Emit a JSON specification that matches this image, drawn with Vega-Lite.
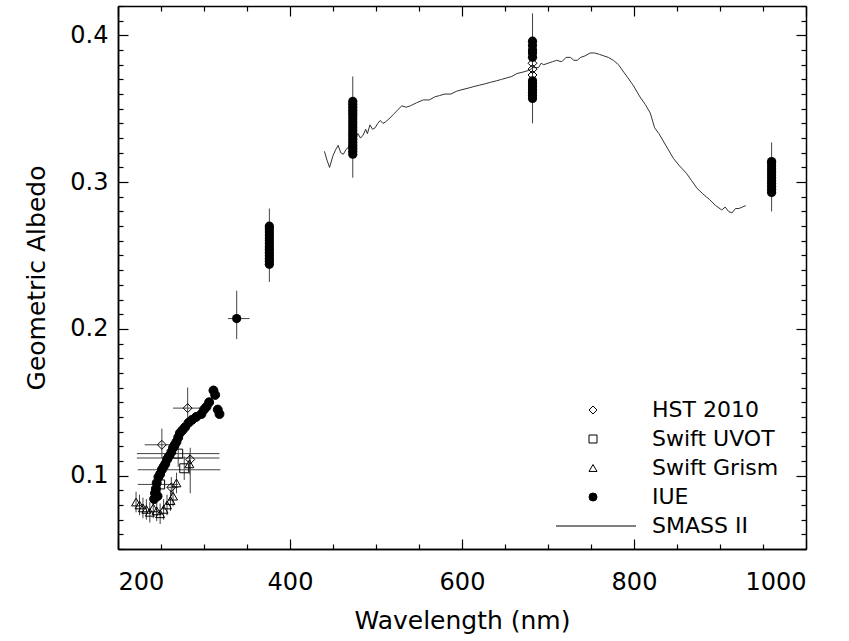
{
  "$schema": "https://vega.github.io/schema/vega-lite/v6.json",
  "width": 688,
  "height": 543,
  "autosize": "none",
  "padding": {"left": 118, "top": 6, "right": 43, "bottom": 92},
  "background": "white",
  "config": {
    "view": {"stroke": null},
    "font": "DejaVu Sans",
    "axis": {"domainColor": "black", "domainWidth": 1.5, "tickColor": "black", "tickWidth": 1.2, "grid": false, "labelColor": "black", "titleColor": "black", "labelFont": "DejaVu Sans", "titleFont": "DejaVu Sans", "titleFontWeight": "normal", "zindex": 1},
    "legend": {"labelFont": "DejaVu Sans", "labelFontSize": 22, "labelColor": "black"}
  },
  "datasets": {
    "smass": [
      {"w":440,"v":0.321},{"w":443,"v":0.315},{"w":446,"v":0.310},{"w":450,"v":0.318},{"w":453,"v":0.322},{"w":456,"v":0.325},{"w":459,"v":0.320},{"w":462,"v":0.319},{"w":465,"v":0.322},{"w":468,"v":0.324},{"w":471,"v":0.327},{"w":474,"v":0.329},{"w":477,"v":0.331},{"w":479,"v":0.333},{"w":482,"v":0.330},{"w":485,"v":0.332},{"w":488,"v":0.336},{"w":490,"v":0.333},{"w":493,"v":0.339},{"w":496,"v":0.336},{"w":499,"v":0.337},{"w":502,"v":0.340},{"w":505,"v":0.342},{"w":508,"v":0.340},{"w":511,"v":0.341},{"w":515,"v":0.343},{"w":520,"v":0.346},{"w":525,"v":0.349},{"w":530,"v":0.352},{"w":535,"v":0.351},{"w":540,"v":0.352},{"w":547,"v":0.354},{"w":555,"v":0.356},{"w":562,"v":0.356},{"w":568,"v":0.358},{"w":574,"v":0.359},{"w":580,"v":0.360},{"w":587,"v":0.360},{"w":594,"v":0.362},{"w":600,"v":0.363},{"w":607,"v":0.364},{"w":613,"v":0.365},{"w":620,"v":0.366},{"w":627,"v":0.367},{"w":633,"v":0.368},{"w":640,"v":0.369},{"w":646,"v":0.370},{"w":652,"v":0.371},{"w":658,"v":0.372},{"w":664,"v":0.374},{"w":671,"v":0.375},{"w":677,"v":0.376},{"w":683,"v":0.378},{"w":689,"v":0.378},{"w":692,"v":0.381},{"w":695,"v":0.380},{"w":700,"v":0.381},{"w":705,"v":0.382},{"w":710,"v":0.383},{"w":716,"v":0.382},{"w":721,"v":0.385},{"w":726,"v":0.385},{"w":730,"v":0.383},{"w":734,"v":0.383},{"w":738,"v":0.385},{"w":743,"v":0.386},{"w":749,"v":0.388},{"w":754,"v":0.388},{"w":760,"v":0.387},{"w":765,"v":0.386},{"w":770,"v":0.385},{"w":776,"v":0.383},{"w":782,"v":0.380},{"w":788,"v":0.375},{"w":793,"v":0.371},{"w":799,"v":0.366},{"w":803,"v":0.362},{"w":807,"v":0.358},{"w":813,"v":0.353},{"w":819,"v":0.347},{"w":822,"v":0.341},{"w":824,"v":0.337},{"w":829,"v":0.333},{"w":834,"v":0.328},{"w":840,"v":0.322},{"w":846,"v":0.316},{"w":853,"v":0.311},{"w":861,"v":0.306},{"w":867,"v":0.301},{"w":873,"v":0.296},{"w":880,"v":0.292},{"w":888,"v":0.288},{"w":895,"v":0.284},{"w":902,"v":0.281},{"w":906,"v":0.283},{"w":910,"v":0.280},{"w":914,"v":0.279},{"w":918,"v":0.282},{"w":922,"v":0.282},{"w":926,"v":0.283},{"w":930,"v":0.284}
    ],
    "blob": [
      {"w":376,"v":0.244},{"w":376,"v":0.246},{"w":376,"v":0.248},{"w":376,"v":0.250},{"w":376,"v":0.252},{"w":376,"v":0.254},{"w":376,"v":0.256},{"w":376,"v":0.258},{"w":376,"v":0.260},{"w":376,"v":0.262},{"w":376,"v":0.264},{"w":376,"v":0.266},{"w":376,"v":0.268},{"w":376,"v":0.270},
      {"w":473,"v":0.319},{"w":473,"v":0.321},{"w":473,"v":0.323},{"w":473,"v":0.325},{"w":473,"v":0.327},{"w":473,"v":0.329},{"w":473,"v":0.331},{"w":473,"v":0.333},{"w":473,"v":0.335},{"w":473,"v":0.337},{"w":473,"v":0.339},{"w":473,"v":0.341},{"w":473,"v":0.343},{"w":473,"v":0.345},{"w":473,"v":0.347},{"w":473,"v":0.349},{"w":473,"v":0.351},{"w":473,"v":0.353},{"w":473,"v":0.355},
      {"w":682,"v":0.357},{"w":682,"v":0.359},{"w":682,"v":0.361},{"w":682,"v":0.363},{"w":682,"v":0.365},{"w":682,"v":0.367},{"w":682,"v":0.369},{"w":682,"v":0.385},{"w":682,"v":0.388},{"w":682,"v":0.390},{"w":682,"v":0.393},{"w":682,"v":0.396},
      {"w":960,"v":0.293},{"w":960,"v":0.295},{"w":960,"v":0.297},{"w":960,"v":0.299},{"w":960,"v":0.301},{"w":960,"v":0.303},{"w":960,"v":0.305},{"w":960,"v":0.307},{"w":960,"v":0.309},{"w":960,"v":0.311},{"w":960,"v":0.313},{"w":960,"v":0.314},
      {"w":338,"v":0.207}
    ],
    "pts": [
      {"series":"HST 2010","w":682,"v":0.373},{"series":"HST 2010","w":682,"v":0.377},{"series":"HST 2010","w":682,"v":0.381},
      {"series":"HST 2010","w":281,"v":0.146},{"series":"HST 2010","w":251,"v":0.121},{"series":"HST 2010","w":284,"v":0.111},{"series":"HST 2010","w":262,"v":0.092},
      {"series":"Swift UVOT","w":270,"v":0.115},{"series":"Swift UVOT","w":277,"v":0.105},{"series":"Swift UVOT","w":249,"v":0.094},
      {"series":"Swift Grism","w":221,"v":0.082},{"series":"Swift Grism","w":225,"v":0.080},{"series":"Swift Grism","w":229,"v":0.078},{"series":"Swift Grism","w":233,"v":0.077},{"series":"Swift Grism","w":237,"v":0.075},{"series":"Swift Grism","w":241,"v":0.078},{"series":"Swift Grism","w":245,"v":0.076},{"series":"Swift Grism","w":249,"v":0.074},{"series":"Swift Grism","w":253,"v":0.077},{"series":"Swift Grism","w":257,"v":0.080},{"series":"Swift Grism","w":261,"v":0.083},{"series":"Swift Grism","w":264,"v":0.086},{"series":"Swift Grism","w":268,"v":0.095},{"series":"Swift Grism","w":283,"v":0.108},
      {"series":"IUE","w":242,"v":0.084},{"series":"IUE","w":243,"v":0.088},{"series":"IUE","w":244,"v":0.091},{"series":"IUE","w":245,"v":0.095},{"series":"IUE","w":246,"v":0.086},{"series":"IUE","w":247,"v":0.099},{"series":"IUE","w":249,"v":0.101},{"series":"IUE","w":251,"v":0.104},{"series":"IUE","w":253,"v":0.106},{"series":"IUE","w":255,"v":0.108},{"series":"IUE","w":257,"v":0.111},{"series":"IUE","w":259,"v":0.113},{"series":"IUE","w":262,"v":0.116},{"series":"IUE","w":264,"v":0.119},{"series":"IUE","w":266,"v":0.121},{"series":"IUE","w":268,"v":0.123},{"series":"IUE","w":270,"v":0.126},{"series":"IUE","w":272,"v":0.129},{"series":"IUE","w":275,"v":0.131},{"series":"IUE","w":278,"v":0.133},{"series":"IUE","w":282,"v":0.136},{"series":"IUE","w":286,"v":0.138},{"series":"IUE","w":291,"v":0.140},{"series":"IUE","w":297,"v":0.142},{"series":"IUE","w":300,"v":0.145},{"series":"IUE","w":303,"v":0.147},{"series":"IUE","w":306,"v":0.150},{"series":"IUE","w":311,"v":0.158},{"series":"IUE","w":313,"v":0.155},{"series":"IUE","w":316,"v":0.145},{"series":"IUE","w":318,"v":0.142}
    ],
    "vbar": [
      {"w":376,"lo":0.232,"hi":0.282},{"w":473,"lo":0.303,"hi":0.372},{"w":682,"lo":0.340,"hi":0.415},{"w":960,"lo":0.280,"hi":0.327},{"w":338,"lo":0.193,"hi":0.226},
      {"w":281,"lo":0.136,"hi":0.160},{"w":251,"lo":0.112,"hi":0.132},{"w":284,"lo":0.088,"hi":0.119},{"w":262,"lo":0.086,"hi":0.099},
      {"w":270,"lo":0.106,"hi":0.124},{"w":277,"lo":0.097,"hi":0.113},{"w":249,"lo":0.086,"hi":0.102},
      {"w":221,"lo":0.075,"hi":0.089},{"w":225,"lo":0.073,"hi":0.087},{"w":229,"lo":0.071,"hi":0.085},{"w":233,"lo":0.070,"hi":0.084},{"w":237,"lo":0.068,"hi":0.082},{"w":241,"lo":0.071,"hi":0.085},{"w":245,"lo":0.069,"hi":0.083},{"w":249,"lo":0.067,"hi":0.081},{"w":253,"lo":0.070,"hi":0.084},{"w":257,"lo":0.073,"hi":0.087},{"w":261,"lo":0.076,"hi":0.090},{"w":264,"lo":0.079,"hi":0.093},{"w":268,"lo":0.088,"hi":0.102},{"w":283,"lo":0.101,"hi":0.115}
    ],
    "hbar": [
      {"v":0.207,"lo":328,"hi":353},{"v":0.146,"lo":264,"hi":295},{"v":0.121,"lo":231,"hi":268},{"v":0.115,"lo":222,"hi":318},{"v":0.112,"lo":222,"hi":318},{"v":0.104,"lo":223,"hi":319},{"v":0.094,"lo":223,"hi":270},{"v":0.092,"lo":257,"hi":270}
    ]
  },
  "resolve": {"axis": {"x": "independent", "y": "independent"}},
  "layer": [
    {
      "data": {"name": "smass"},
      "mark": {"type": "line", "color": "#333", "strokeWidth": 1},
      "encoding": {
        "x": {"field": "w", "type": "quantitative", "scale": {"domain": [200, 1000], "nice": false, "zero": false},
              "axis": {"orient": "bottom", "values": [200, 400, 600, 800, 1000], "format": "d", "ticks": false, "labelFontSize": 24, "labelPadding": 21, "title": "Wavelength (nm)", "titleFontSize": 25, "titlePadding": 14}},
        "y": {"field": "v", "type": "quantitative", "scale": {"domain": [0.05, 0.42], "nice": false, "zero": false},
              "axis": {"orient": "left", "values": [0.1, 0.2, 0.3, 0.4], "format": ".1f", "ticks": false, "labelFontSize": 24, "labelPadding": 10, "title": "Geometric Albedo", "titleFontSize": 25, "titlePadding": 20}}
      }
    },
    {
      "data": {"name": "vbar"},
      "mark": {"type": "rule", "color": "#444", "strokeWidth": 1},
      "encoding": {
        "x": {"field": "w", "type": "quantitative", "axis": {"orient": "bottom", "values": [200,250,300,350,400,450,500,550,600,650,700,750,800,850,900,950,1000], "labels": false, "ticks": true, "tickSize": {"condition": {"test": "datum.value % 200 === 0", "value": -10}, "value": -5}, "title": null}},
        "y": {"field": "lo", "type": "quantitative", "axis": {"orient": "left", "values": [0.05,0.06,0.07,0.08,0.09,0.1,0.11,0.12,0.13,0.14,0.15,0.16,0.17,0.18,0.19,0.2,0.21,0.22,0.23,0.24,0.25,0.26,0.27,0.28,0.29,0.3,0.31,0.32,0.33,0.34,0.35,0.36,0.37,0.38,0.39,0.4,0.41,0.42], "labels": false, "ticks": true, "tickSize": {"condition": {"test": "abs(datum.value*10 - round(datum.value*10)) < 0.001", "value": -10}, "value": -5}, "title": null}},
        "y2": {"field": "hi"}
      }
    },
    {
      "data": {"name": "hbar"},
      "mark": {"type": "rule", "color": "#444", "strokeWidth": 1},
      "encoding": {
        "x": {"field": "lo", "type": "quantitative", "axis": {"orient": "top", "values": [200,250,300,350,400,450,500,550,600,650,700,750,800,850,900,950,1000], "labels": false, "ticks": true, "tickSize": {"condition": {"test": "datum.value % 200 === 0", "value": -10}, "value": -5}, "title": null}},
        "x2": {"field": "hi"},
        "y": {"field": "v", "type": "quantitative", "axis": {"orient": "right", "values": [0.05,0.06,0.07,0.08,0.09,0.1,0.11,0.12,0.13,0.14,0.15,0.16,0.17,0.18,0.19,0.2,0.21,0.22,0.23,0.24,0.25,0.26,0.27,0.28,0.29,0.3,0.31,0.32,0.33,0.34,0.35,0.36,0.37,0.38,0.39,0.4,0.41,0.42], "labels": false, "ticks": true, "tickSize": {"condition": {"test": "abs(datum.value*10 - round(datum.value*10)) < 0.001", "value": -10}, "value": -5}, "title": null}}
      }
    },
    {
      "data": {"name": "blob"},
      "mark": {"type": "point", "shape": "circle", "filled": true, "color": "black", "size": 85, "opacity": 1},
      "encoding": {
        "x": {"field": "w", "type": "quantitative", "axis": null},
        "y": {"field": "v", "type": "quantitative", "axis": null}
      }
    },
    {
      "data": {"name": "pts"},
      "mark": {"type": "point", "filled": true, "stroke": "black", "strokeWidth": 1, "size": 80, "opacity": 1},
      "encoding": {
        "x": {"field": "w", "type": "quantitative", "axis": null},
        "y": {"field": "v", "type": "quantitative", "axis": null},
        "shape": {"field": "series", "type": "nominal",
                  "scale": {"domain": ["HST 2010", "Swift UVOT", "Swift Grism", "IUE", "SMASS II"], "range": ["diamond", "square", "triangle-up", "circle", "M-9.25,0L10.75,0"]},
                  "legend": {"title": null, "orient": "none", "legendX": 464, "legendY": 393, "padding": 0, "labelOffset": 48, "rowPadding": 7, "symbolSize": 64, "symbolStrokeWidth": 1, "labelFontSize": 22}},
        "fill": {"field": "series", "type": "nominal",
                 "scale": {"domain": ["HST 2010", "Swift UVOT", "Swift Grism", "IUE", "SMASS II"], "range": ["transparent", "transparent", "transparent", "black", "transparent"]},
                 "legend": {"title": null, "orient": "none", "legendX": 464, "legendY": 393, "padding": 0, "labelOffset": 48, "rowPadding": 7, "symbolSize": 64, "symbolStrokeWidth": 1, "labelFontSize": 22}},
        "stroke": {"field": "series", "type": "nominal",
                 "scale": {"domain": ["HST 2010", "Swift UVOT", "Swift Grism", "IUE", "SMASS II"], "range": ["black", "black", "black", "black", "black"]},
                 "legend": {"title": null, "orient": "none", "legendX": 464, "legendY": 393, "padding": 0, "labelOffset": 48, "rowPadding": 7, "symbolSize": 64, "symbolStrokeWidth": 1, "labelFontSize": 22}}
      }
    }
  ]
}
